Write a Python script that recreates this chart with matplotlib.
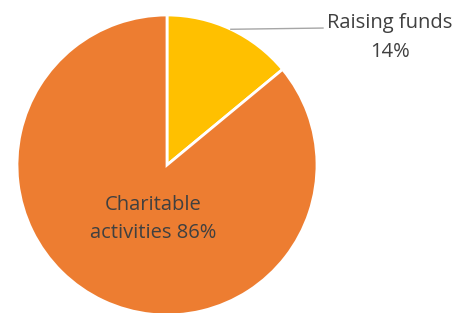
import numpy as np
import matplotlib.pyplot as plt

# --- data ---
labels = ["Raising funds", "Charitable activities"]
shares = [14, 86]
colors = ["#FFC000", "#ED7D31"]

W, H = 466, 313
fig = plt.figure(figsize=(W / 100, H / 100), dpi=100)
# pie box: 300x300 px, centre at (167, 165) from top-left
ax = fig.add_axes([17 / W, (H - 315) / H, 300 / W, 300 / H])

wedges, _ = ax.pie(shares, colors=colors, startangle=90, counterclock=False,
                   radius=1, frame=True,
                   wedgeprops=dict(edgecolor="white", linewidth=2))
ax.set_xlim(-1, 1)
ax.set_ylim(-1, 1)
ax.set_aspect("auto")
ax.axis("off")

txt_color = "#404040"
font = "Open Sans"

# outside label with leader line for the small slice
w0 = wedges[0]
mid = np.deg2rad((w0.theta1 + w0.theta2) / 2)
edge = (np.cos(mid), np.sin(mid))
ax.plot([edge[0], 1.04], [edge[1], 0.913], color="#a6a6a6", lw=1, clip_on=False)
ax.text(1.487, 0.85, f"{labels[0]}\n{shares[0]}%", ha="center", va="center",
        fontsize=14.5, color=txt_color, family=font, linespacing=1.55)

# inside label for the big slice
ax.text(-0.09, -0.36, f"Charitable\nactivities {shares[1]}%", ha="center", va="center",
        fontsize=14.5, color=txt_color, family=font, linespacing=1.55)

fig.savefig("out.png", dpi=100)
